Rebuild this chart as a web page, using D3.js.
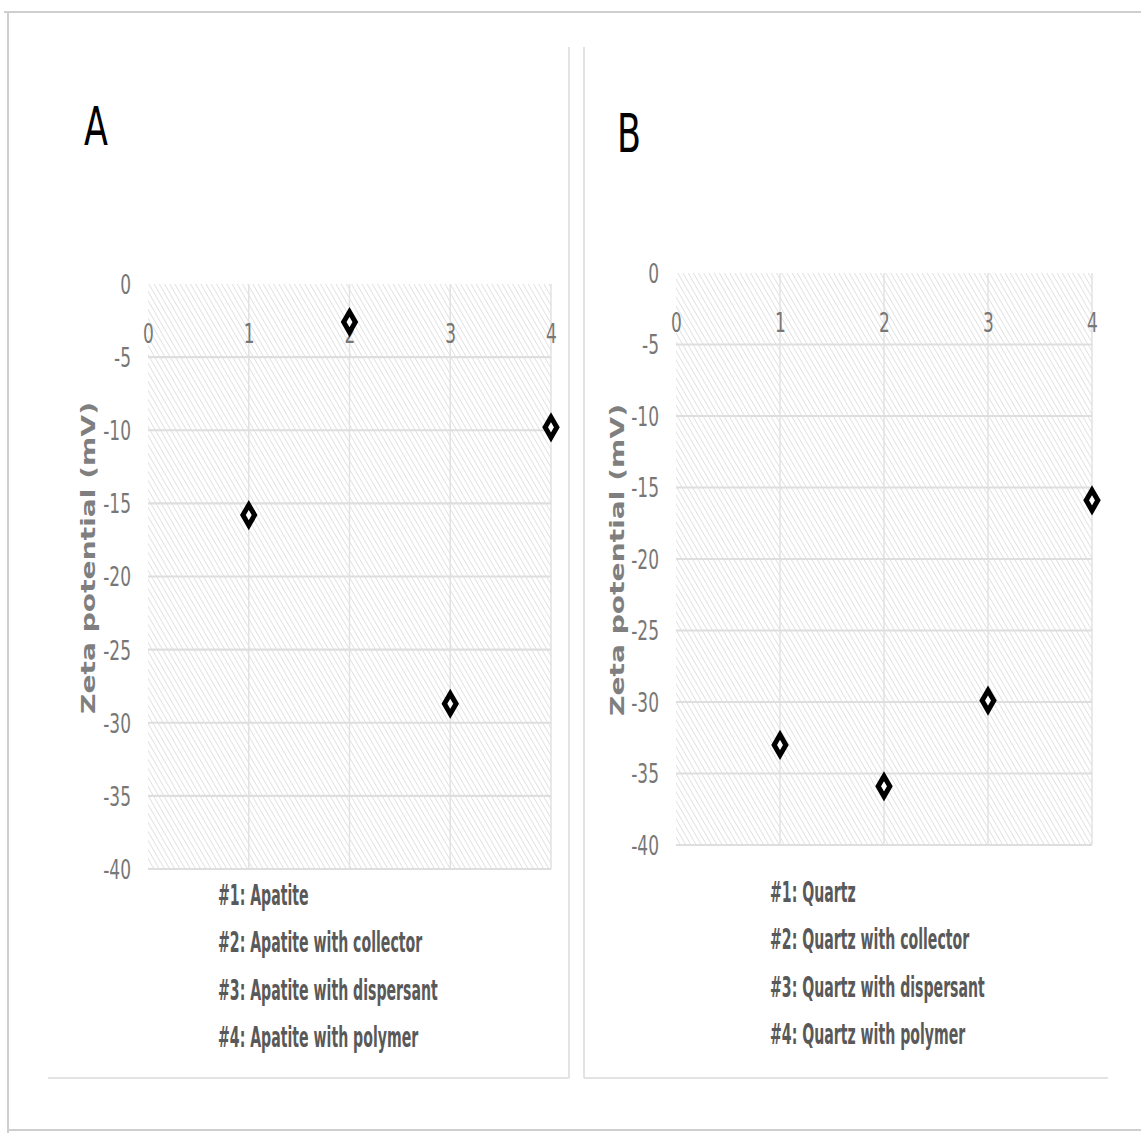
<!DOCTYPE html>
<html>
<head>
<meta charset="utf-8">
<script src="https://cdn.jsdelivr.net/npm/d3@7"></script>
<style>
  body { margin: 0; background: #fff; }
  svg { display: block; }
  .tick-label { font-family: "Liberation Sans Narrow", "DejaVu Sans Condensed", sans-serif; font-size: 27px; fill: #777; }
  .axis-title { font-family: "DejaVu Sans", Verdana, sans-serif; font-weight: bold; font-size: 19px; fill: #7f7f7f; }
  .legend-text { font-family: "Liberation Sans Narrow", "DejaVu Sans Condensed", sans-serif; font-weight: bold; font-size: 29px; fill: #595959; }
  .panel-label { font-family: "Liberation Sans Narrow", "DejaVu Sans Condensed", sans-serif; font-size: 54px; fill: #000; }
</style>
</head>
<body>
<script>
// data
const xTicks = [0, 1, 2, 3, 4];
const yTicks = [0, -5, -10, -15, -20, -25, -30, -35, -40];
const samples = [1, 2, 3, 4];
const apatiteZeta = [-15.8, -2.6, -28.7, -9.8];
const quartzZeta = [-33.0, -35.9, -29.9, -15.9];
const apatiteLegend = ['#1: Apatite', '#2: Apatite with collector', '#3: Apatite with dispersant', '#4: Apatite with polymer'];
const quartzLegend = ['#1: Quartz', '#2: Quartz with collector', '#3: Quartz with dispersant', '#4: Quartz with polymer'];
const yTitle = 'Zeta potential (mV)';

let width = 1141;
let height = 1133;

let svg = d3.select('body')
    .append('svg')
    .attr('width', width)
    .attr('height', height);

// diagonal hatch used for the plot areas
svg.append('defs')
    .append('pattern')
    .attr('id', 'hatch')
    .attr('patternUnits', 'userSpaceOnUse')
    .attr('width', 4.5)
    .attr('height', 4.5)
    .attr('patternTransform', 'rotate(-30)')
    .append('line')
    .attr('x1', 0).attr('y1', 0)
    .attr('x2', 0).attr('y2', 4.5)
    .attr('stroke', '#d4d4d4')
    .attr('stroke-width', 1.3);

// outer frame of the picture
let frame = svg.append('g').attr('stroke', '#cfcfcf').attr('stroke-width', 2);
frame.append('line').attr('x1', 4).attr('y1', 12).attr('x2', width).attr('y2', 12);
frame.append('line').attr('x1', 8).attr('y1', 12).attr('x2', 8).attr('y2', height);
frame.append('line').attr('x1', 8).attr('y1', 1130).attr('x2', width).attr('y2', 1130);

const panels = [
  { label: 'A', values: apatiteZeta, legend: apatiteLegend,
    x0: 148, x1: 551, y0: 284, y1: 869,
    labelX: 84, labelY: 145, titleX: 88, titleY: 558,
    legendX: 218, legendY: 905, legendW: 220,
    box: [[569, 47, 569, 1078], [48, 1078, 569, 1078]] },
  { label: 'B', values: quartzZeta, legend: quartzLegend,
    x0: 676, x1: 1092, y0: 273, y1: 845,
    labelX: 617, labelY: 152, titleX: 617, titleY: 560,
    legendX: 770, legendY: 902, legendW: 215,
    box: [[584, 47, 584, 1078], [584, 1078, 1108, 1078]] }
];

// squeeze glyphs sideways so the wide fallback font looks condensed
const squeeze = 0.7;

panels.forEach(p => {
  let g = svg.append('g');

  // panel borders
  g.selectAll('line.box')
      .data(p.box)
      .enter()
      .append('line')
      .attr('class', 'box')
      .attr('x1', d => d[0]).attr('y1', d => d[1])
      .attr('x2', d => d[2]).attr('y2', d => d[3])
      .attr('stroke', '#e3e3e3')
      .attr('stroke-width', 2);

  let x = d3.scaleLinear().domain([0, 4]).range([p.x0, p.x1]);
  let y = d3.scaleLinear().domain([-40, 0]).range([p.y1, p.y0]);

  // plot area
  g.append('rect')
      .attr('x', x(0))
      .attr('y', y(0))
      .attr('width', x(4) - x(0))
      .attr('height', y(-40) - y(0))
      .attr('fill', 'url(#hatch)');

  // vertical grid
  g.selectAll('line.vgrid')
      .data(xTicks.filter(t => t > 0))
      .enter()
      .append('line')
      .attr('class', 'vgrid')
      .attr('x1', d => x(d)).attr('x2', d => x(d))
      .attr('y1', y(0)).attr('y2', y(-40))
      .attr('stroke', '#e2e2e2')
      .attr('stroke-width', 1.5);

  // horizontal grid
  g.selectAll('line.hgrid')
      .data(yTicks.filter(t => t < 0))
      .enter()
      .append('line')
      .attr('class', 'hgrid')
      .attr('x1', x(0)).attr('x2', x(4))
      .attr('y1', d => y(d)).attr('y2', d => y(d))
      .attr('stroke', '#dedede')
      .attr('stroke-width', 2.2);

  // y axis labels
  let yAxis = g.append('g')
      .attr('transform', `translate(${x(0) - 17}, 0)`)
      .call(d3.axisLeft(y).tickValues(yTicks).tickFormat(d => String(d)).tickSize(0).tickPadding(0));
  yAxis.select('.domain').remove();
  yAxis.selectAll('text')
      .attr('class', 'tick-label')
      .attr('dy', '0.35em')
      .attr('fill', null)
      .attr('transform', `scale(${squeeze}, 1)`);

  // x axis labels, sitting just under the zero line
  let xAxis = g.append('g')
      .attr('transform', `translate(0, ${y(0)})`)
      .call(d3.axisBottom(x).tickValues(xTicks).tickFormat(d => String(d)).tickSize(0).tickPadding(40));
  xAxis.select('.domain').remove();
  xAxis.selectAll('text')
      .attr('class', 'tick-label')
      .attr('fill', null)
      .attr('transform', `scale(${squeeze}, 1)`);

  // axis title
  g.append('text')
      .attr('class', 'axis-title')
      .attr('transform', `translate(${p.titleX}, ${p.titleY}) rotate(-90)`)
      .attr('text-anchor', 'middle')
      .attr('dy', '0.35em')
      .attr('textLength', 312)
      .attr('lengthAdjust', 'spacingAndGlyphs')
      .text(yTitle);

  // markers
  g.selectAll('path.point')
      .data(samples)
      .enter()
      .append('path')
      .attr('class', 'point')
      .attr('d', d3.symbol(d3.symbolDiamond, 118))
      .attr('transform', (d, i) => `translate(${x(d)}, ${y(p.values[i])})`)
      .attr('fill', '#fff')
      .attr('stroke', '#000')
      .attr('stroke-width', 5);

  // panel letter
  g.append('text')
      .attr('class', 'panel-label')
      .attr('transform', `translate(${p.labelX}, ${p.labelY}) scale(0.72, 1)`)
      .text(p.label);

  // legend lines (condensed to fit the figure)
  let legend = g.append('g');
  let rows = legend.selectAll('text')
      .data(p.legend)
      .enter()
      .append('text')
      .attr('class', 'legend-text')
      .attr('x', 0)
      .attr('y', (d, i) => i * 47.5)
      .text(d => d);
  let widest = d3.max(rows.nodes(), n => n.getComputedTextLength());
  legend.attr('transform', `translate(${p.legendX}, ${p.legendY}) scale(${p.legendW / widest}, 1)`);
});
</script>
</body>
</html>
